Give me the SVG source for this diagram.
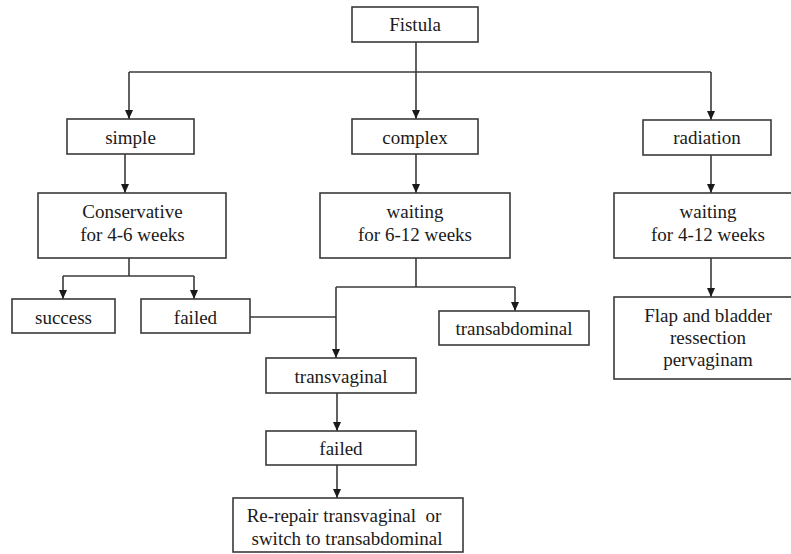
<svg xmlns="http://www.w3.org/2000/svg" width="791" height="554" viewBox="0 0 791 554">
<style>
.box{fill:#fff;stroke:#3a3a3a;stroke-width:1.6}
.t{font-family:'Liberation Serif','DejaVu Serif',serif;font-size:19px;fill:#1a1a1a;text-anchor:middle}
.c{fill:none;stroke:#3a3a3a;stroke-width:1.6}
</style>
<defs>
<marker id="ah" markerWidth="10" markerHeight="10" refX="9" refY="5" orient="auto" markerUnits="userSpaceOnUse">
<path d="M0,1 L9,5 L0,9 Z" fill="#1a1a1a"/>
</marker>
</defs>
<rect width="791" height="554" fill="#fff"/>
<g id="connectors">
<path class="c" d="M416,42 V72"/>
<path class="c" d="M129,72 H711"/>
<path class="c" d="M129,72 V119" marker-end="url(#ah)"/>
<path class="c" d="M416,72 V119" marker-end="url(#ah)"/>
<path class="c" d="M711,72 V120" marker-end="url(#ah)"/>
<path class="c" d="M125,154 V193" marker-end="url(#ah)"/>
<path class="c" d="M416,154 V193" marker-end="url(#ah)"/>
<path class="c" d="M711,155 V193" marker-end="url(#ah)"/>
<path class="c" d="M129,258 V276"/>
<path class="c" d="M63,276 H194"/>
<path class="c" d="M63,276 V299" marker-end="url(#ah)"/>
<path class="c" d="M194,276 V299" marker-end="url(#ah)"/>
<path class="c" d="M416,258 V287"/>
<path class="c" d="M336,287 H515"/>
<path class="c" d="M515,287 V311" marker-end="url(#ah)"/>
<path class="c" d="M250,317 H336"/>
<path class="c" d="M336,287 V358" marker-end="url(#ah)"/>
<path class="c" d="M711,258 V297" marker-end="url(#ah)"/>
<path class="c" d="M337,393 V431" marker-end="url(#ah)"/>
<path class="c" d="M337,465 V498" marker-end="url(#ah)"/>
</g>
<g id="fistula"><rect class="box" x="352" y="7" width="126" height="35"/><text class="t" x="415" y="31">Fistula</text></g>
<g id="simple"><rect class="box" x="67" y="119" width="127" height="35"/><text class="t" x="130.5" y="144">simple</text></g>
<g id="complex"><rect class="box" x="352" y="119" width="126" height="35"/><text class="t" x="415" y="144">complex</text></g>
<g id="radiation"><rect class="box" x="643" y="120" width="128" height="35"/><text class="t" x="707" y="144">radiation</text></g>
<g id="conservative"><rect class="box" x="38" y="193" width="188" height="65"/><text class="t" x="132.5" y="218">Conservative</text><text class="t" x="132.5" y="241">for 4-6 weeks</text></g>
<g id="waiting-complex"><rect class="box" x="320" y="193" width="190" height="65"/><text class="t" x="415" y="218">waiting</text><text class="t" x="415" y="241">for 6-12 weeks</text></g>
<g id="waiting-radiation"><rect class="box" x="614" y="193" width="190" height="65"/><text class="t" x="708" y="218">waiting</text><text class="t" x="708" y="241">for 4-12 weeks</text></g>
<g id="success"><rect class="box" x="12" y="299" width="103" height="34"/><text class="t" x="63.5" y="324">success</text></g>
<g id="failed1"><rect class="box" x="141" y="299" width="109" height="34"/><text class="t" x="195.5" y="324">failed</text></g>
<g id="transabdominal"><rect class="box" x="439" y="311" width="150" height="34"/><text class="t" x="514" y="335">transabdominal</text></g>
<g id="flap"><rect class="box" x="614" y="297" width="190" height="82"/><text class="t" x="708" y="322">Flap and bladder</text><text class="t" x="708" y="344">ressection</text><text class="t" x="708" y="366">pervaginam</text></g>
<g id="transvaginal"><rect class="box" x="266" y="358" width="150" height="35"/><text class="t" x="341" y="383">transvaginal</text></g>
<g id="failed2"><rect class="box" x="266" y="431" width="150" height="34"/><text class="t" x="341" y="455">failed</text></g>
<g id="rerepair"><rect class="box" x="233" y="498" width="230" height="54"/><text class="t" x="344" y="522" xml:space="preserve">Re-repair transvaginal  or</text><text class="t" x="347" y="545">switch to transabdominal</text></g>
</svg>
